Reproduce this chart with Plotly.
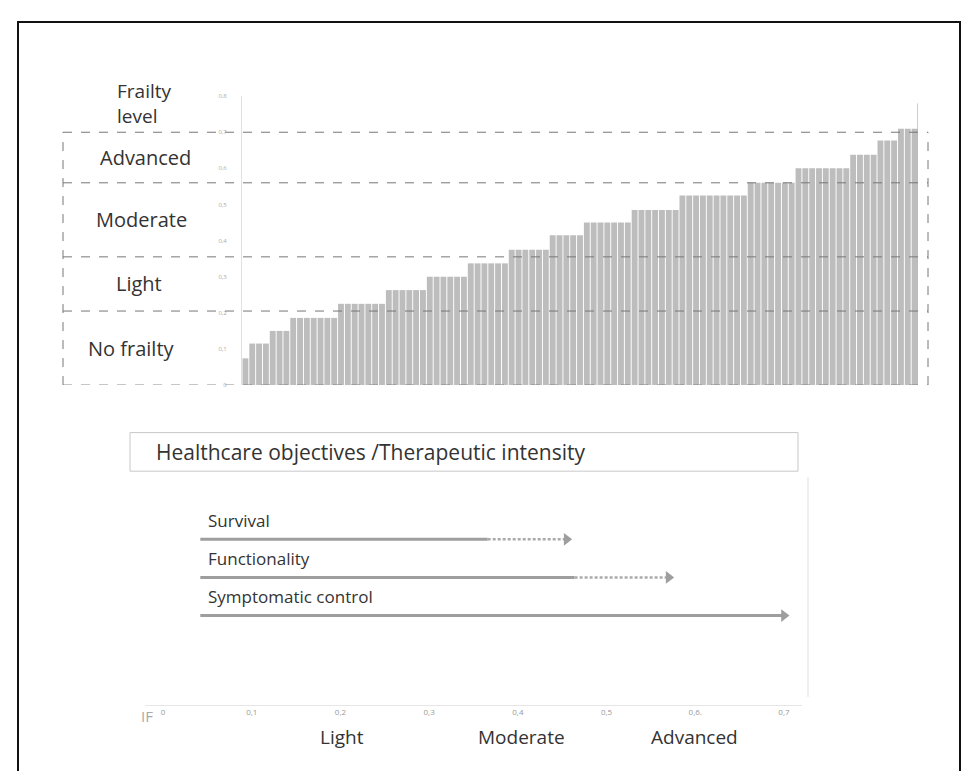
import plotly.graph_objects as go

W, H = 977, 771
OFF = 8  # page body margin in the browser

# ---- data: frailty index of each patient (sorted) ----
step_values = [0.074, 0.115, 0.15, 0.186, 0.225, 0.263, 0.30, 0.337, 0.375,
               0.415, 0.45, 0.485, 0.525, 0.56, 0.60, 0.638, 0.677, 0.71]
step_counts = [1, 3, 3, 7, 7, 6, 6, 6, 6, 5, 7, 7, 10, 7, 8, 4, 3, 3]
frailty_values = [v for v, c in zip(step_values, step_counts) for _ in range(c)]

y_ticks = [0, 0.1, 0.2, 0.3, 0.4, 0.5, 0.6, 0.7, 0.8]
y_ticktext = ["0", "0,1", "0,2", "0,3", "0,4", "0,5", "0,6", "0,7", "0,8"]

# thresholds between frailty levels (dashed lines)
level_bounds = [0.0, 0.205, 0.355, 0.56, 0.7]
level_names = ["No frailty", "Light", "Moderate", "Advanced"]
level_label_x = [132, 139, 141, 145]

# ---- lower panel: objectives by IF ----
objectives = ["Survival", "Functionality", "Symptomatic control"]
obj_start = [0.042, 0.042, 0.042]
obj_solid_end = [0.366, 0.464, 0.700]
obj_dash_end = [0.455, 0.570, None]
obj_row = [3, 2, 1]

if_ticks = [0, 0.1, 0.2, 0.3, 0.4, 0.5, 0.6, 0.7]
if_ticktext = ["0", "0,1", "0,2", "0,3", "0,4", "0,5", "0,6.", "0,7"]
if_zones = ["Light", "Moderate", "Advanced"]
if_zone_pos = [0.202, 0.404, 0.599]


def px(x):
    return (x - OFF) / W


def py(y):
    return 1 - (y - OFF) / H


FONT = "Open Sans"
TXT = "#333333"
ARROW = "#9e9e9e"

fig = go.Figure()

fig.add_trace(go.Bar(
    x=list(range(len(frailty_values))), y=frailty_values,
    marker=dict(color="#bdbdbd", line=dict(width=0)),
    xaxis="x", yaxis="y", showlegend=False, hoverinfo="y"))

# thin marker line at the end of the bars
fig.add_trace(go.Scatter(
    x=[len(frailty_values) - 0.5, len(frailty_values) - 0.5], y=[0, 0.78],
    mode="lines", line=dict(color="#999999", width=1),
    xaxis="x", yaxis="y", showlegend=False, hoverinfo="skip"))

shapes = []
# dashed level box
for b in level_bounds:
    shapes.append(dict(type="line", xref="paper", yref="y",
                       x0=px(63), x1=px(928), y0=b, y1=b,
                       line=dict(color="#777777", width=1, dash="dash")))
for xx in (63, 928):
    shapes.append(dict(type="line", xref="paper", yref="y",
                       x0=px(xx), x1=px(xx), y0=0, y1=level_bounds[-1],
                       line=dict(color="#777777", width=1, dash="dash")))

# lower arrows
for name, s, se, de, r in zip(objectives, obj_start, obj_solid_end, obj_dash_end, obj_row):
    fig.add_trace(go.Scatter(
        x=[s, se], y=[r, r], mode="lines",
        line=dict(color=ARROW, width=3),
        xaxis="x2", yaxis="y2", showlegend=False, hoverinfo="skip"))
    tip = se
    if de is not None:
        fig.add_trace(go.Scatter(
            x=[se, de], y=[r, r], mode="lines",
            line=dict(color="#aaaaaa", width=2.5, dash="3px,2px"),
            xaxis="x2", yaxis="y2", showlegend=False, hoverinfo="skip"))
        tip = de
    fig.add_trace(go.Scatter(
        x=[tip], y=[r], mode="markers",
        marker=dict(symbol="triangle-right", size=11, color=ARROW),
        xaxis="x2", yaxis="y2", showlegend=False, hoverinfo="skip"))

annotations = []
for name, s, r in zip(objectives, obj_start, obj_row):
    annotations.append(dict(text=name, x=s + 0.006, y=r + 0.5, xref="x2", yref="y2",
                            xanchor="left", yanchor="middle", showarrow=False,
                            font=dict(family=FONT, size=17, color=TXT)))
for name, xp in zip(if_zones, if_zone_pos):
    annotations.append(dict(text=name, x=xp, y=py(741), xref="x2", yref="paper",
                            xanchor="center", yanchor="middle", showarrow=False,
                            font=dict(family=FONT, size=19, color=TXT)))
annotations.append(dict(text="IF", x=px(147), y=py(719), xref="paper", yref="paper",
                        xanchor="center", yanchor="middle", showarrow=False,
                        font=dict(family=FONT, size=15, color="#aaaaaa")))

# left frailty level labels
annotations.append(dict(text="Frailty<br>level", x=px(115), y=py(100), xref="paper", yref="paper",
                        xanchor="left", yanchor="middle", showarrow=False, align="left",
                        font=dict(family=FONT, size=19, color=TXT)))
for name, lx, lo, hi in zip(level_names, level_label_x, level_bounds[:-1], level_bounds[1:]):
    annotations.append(dict(text=name, x=px(lx), y=(lo + hi) / 2, xref="paper", yref="y",
                            xanchor="center", yanchor="middle", showarrow=False,
                            font=dict(family=FONT, size=20, color=TXT)))

# header box
shapes.append(dict(type="rect", xref="paper", yref="paper",
                   x0=px(130), x1=px(798), y0=py(472), y1=py(433),
                   line=dict(color="#c8c8c8", width=1)))
annotations.append(dict(text="Healthcare objectives /Therapeutic intensity",
                        x=px(154), y=py(453), xref="paper", yref="paper",
                        xanchor="left", yanchor="middle", showarrow=False,
                        font=dict(family=FONT, size=21, color=TXT)))
shapes.append(dict(type="line", xref="paper", yref="paper",
                   x0=px(808), x1=px(808), y0=py(478), y1=py(700),
                   line=dict(color="#dddddd", width=1)))
# outer frame
shapes.append(dict(type="rect", xref="paper", yref="paper",
                   x0=px(18), x1=px(960), y0=py(800), y1=py(18),
                   line=dict(color="#111111", width=2)))

fig.update_layout(
    width=W, height=H, margin=dict(l=0, r=0, t=0, b=0),
    paper_bgcolor="white", plot_bgcolor="white",
    bargap=0.14,
    font=dict(family=FONT, color=TXT),
    xaxis=dict(domain=[px(242), px(918)], range=[-0.5, len(frailty_values) - 0.5],
               showticklabels=False, showgrid=False, zeroline=False, showline=False,
               fixedrange=True),
    yaxis=dict(domain=[py(385), py(93)], range=[0, 0.8], tickvals=y_ticks, ticktext=y_ticktext,
               tickfont=dict(size=6, color="#aaaaaa"), showgrid=False, zeroline=False,
               showline=True, linecolor="#e0e0e0", linewidth=1, ticks="", ticklabelstandoff=13),
    xaxis2=dict(domain=[px(145.3), px(801.7)], range=[-0.02, 0.72], anchor="y2",
                tickvals=if_ticks, ticktext=if_ticktext,
                tickfont=dict(size=8, color="#999999"), showgrid=False, zeroline=False,
                showline=True, linecolor="#e6e6e6", ticks=""),
    yaxis2=dict(domain=[py(708), py(480)], range=[-1.34, 4.58], anchor="x2",
                visible=False, fixedrange=True),
    shapes=shapes, annotations=annotations,
)

fig.write_html("out.html")
